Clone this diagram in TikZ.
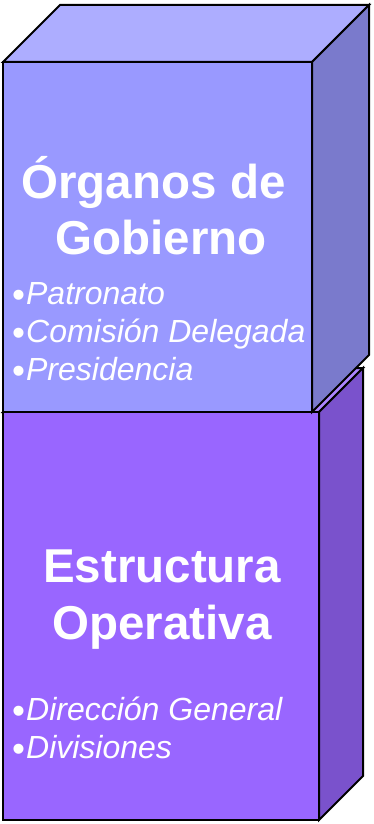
\documentclass[tikz,border=0pt]{standalone}
\usepackage{fontspec}
\setmainfont{Liberation Sans}
\definecolor{topFront}{HTML}{9999FF}
\definecolor{topTop}{HTML}{ADADFF}
\definecolor{topSide}{HTML}{7A7ACC}
\definecolor{botFront}{HTML}{9966FF}
\definecolor{botTop}{HTML}{AD85FF}
\definecolor{botSide}{HTML}{7A52CC}
\newcommand{\bul}{\raisebox{-3pt}{\fontsize{37}{37}\selectfont •}\kern1pt}
\begin{document}
\begin{tikzpicture}[x=1pt,y=-1pt,
  face/.style={draw=black, line width=2pt, line join=miter},
  title/.style={text=white, font=\fontsize{47.5}{56}\selectfont\bfseries, inner sep=0pt, anchor=base},
  item/.style={text=white, font=\fontsize{32}{38}\selectfont, inner sep=0pt, anchor=base west}]
\useasboundingbox (0,0) rectangle (374,824);
% bottom box
\filldraw[face, fill=botTop] (3,412) -- (47,368) -- (363,368) -- (319,412) -- cycle;
\filldraw[face, fill=botSide] (319,412) -- (363,368) -- (363,776) -- (319,820) -- cycle;
\filldraw[face, fill=botFront] (3,412) rectangle (319,820);
% top box
\filldraw[face, fill=topTop] (3,62) -- (60,5) -- (369,5) -- (312,62) -- cycle;
\filldraw[face, fill=topSide] (312,62) -- (369,5) -- (369,355) -- (312,412) -- cycle;
\filldraw[face, fill=topFront] (3,62) rectangle (312,412);
% texts
\node[title] (t1) at (153.5,198) {Órganos de};
\node[title] (t2) at (161,254) {Gobierno};
\node[item] (p1) at (12,304) {\bul\textit{Patronato}};
\node[item] (p2) at (12,342) {\bul\textit{Comisión Delegada}};
\node[item] (p3) at (12,380) {\bul\textit{Presidencia}};
\node[title] (t3) at (162,582) {Estructura};
\node[title] (t4) at (162,639) {Operativa};
\node[item] (d1) at (12,720) {\bul\textit{Dirección General}};
\node[item] (d2) at (12,758) {\bul\textit{Divisiones}};
\end{tikzpicture}
\end{document}
